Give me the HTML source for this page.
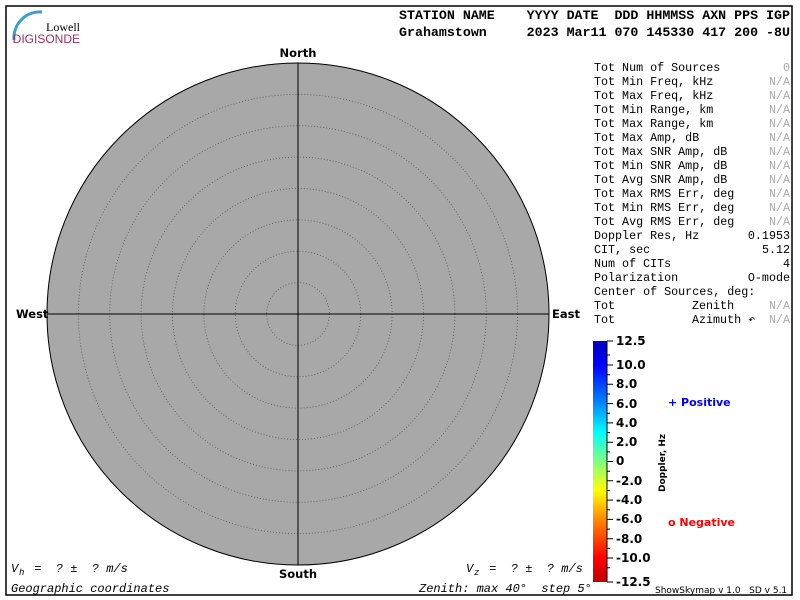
<!DOCTYPE html>
<html><head><style>body{margin:0;background:#fff}svg{display:block}text{white-space:pre}</style></head>
<body>
<svg width="800" height="600" xmlns="http://www.w3.org/2000/svg" font-family="Liberation Mono, monospace">
<defs>
<linearGradient id="cb" x1="0" y1="1" x2="0" y2="0">
<stop offset="0" stop-color="#c00000"/>
<stop offset="0.1" stop-color="#ff0000"/>
<stop offset="0.25" stop-color="#ff8000"/>
<stop offset="0.38" stop-color="#ffff00"/>
<stop offset="0.5" stop-color="#80ff80"/>
<stop offset="0.62" stop-color="#00ffff"/>
<stop offset="0.75" stop-color="#0080ff"/>
<stop offset="0.9" stop-color="#0000ff"/>
<stop offset="1" stop-color="#0000c0"/>
</linearGradient>
</defs>
<rect x="6" y="6" width="786" height="589" fill="none" stroke="#000" stroke-width="1.5"/>
<path d="M14 40 A26 26 0 0 1 42 12" fill="none" stroke="#3aa0c8" stroke-width="3"/>
<text x="80" y="31" font-family="Liberation Serif, serif" font-size="12" text-anchor="end">Lowell</text>
<text x="80" y="43" font-family="Liberation Sans, sans-serif" font-size="12" fill="#a0305a" text-anchor="end">DIGISONDE</text>
<g font-size="13.3" font-weight="bold">
<text x="399" y="19">STATION NAME    YYYY DATE  DDD HHMMSS AXN PPS IGP</text>
<text x="399" y="36">Grahamstown     2023 Mar11 070 145330 417 200 -8U</text>
</g>
<circle cx="298" cy="314" r="251" fill="#a8a8a8" stroke="#000" stroke-width="1"/>
<g fill="none" stroke="#555" stroke-dasharray="1,2" stroke-width="0.8">
<circle cx="298" cy="314" r="31.4"/><circle cx="298" cy="314" r="62.75"/><circle cx="298" cy="314" r="94.1"/><circle cx="298" cy="314" r="125.5"/><circle cx="298" cy="314" r="156.9"/><circle cx="298" cy="314" r="188.25"/><circle cx="298" cy="314" r="219.6"/>
</g>
<line x1="298" y1="63" x2="298" y2="565" stroke="#000"/>
<line x1="47" y1="314" x2="549" y2="314" stroke="#000"/>
<g font-family="DejaVu Sans, sans-serif" font-size="11.5" font-weight="bold">
<text x="298" y="57" text-anchor="middle">North</text>
<text x="298" y="578" text-anchor="middle">South</text>
<text x="16" y="318">West</text>
<text x="552" y="318">East</text>
</g>
<g font-size="11.7">
<text x="594" y="71">Tot Num of Sources</text><text x="790" y="71" text-anchor="end" fill="#aaa">0</text>
<text x="594" y="85">Tot Min Freq, kHz</text><text x="790" y="85" text-anchor="end" fill="#aaa">N/A</text>
<text x="594" y="99">Tot Max Freq, kHz</text><text x="790" y="99" text-anchor="end" fill="#aaa">N/A</text>
<text x="594" y="113">Tot Min Range, km</text><text x="790" y="113" text-anchor="end" fill="#aaa">N/A</text>
<text x="594" y="127">Tot Max Range, km</text><text x="790" y="127" text-anchor="end" fill="#aaa">N/A</text>
<text x="594" y="141">Tot Max Amp, dB</text><text x="790" y="141" text-anchor="end" fill="#aaa">N/A</text>
<text x="594" y="155">Tot Max SNR Amp, dB</text><text x="790" y="155" text-anchor="end" fill="#aaa">N/A</text>
<text x="594" y="169">Tot Min SNR Amp, dB</text><text x="790" y="169" text-anchor="end" fill="#aaa">N/A</text>
<text x="594" y="183">Tot Avg SNR Amp, dB</text><text x="790" y="183" text-anchor="end" fill="#aaa">N/A</text>
<text x="594" y="197">Tot Max RMS Err, deg</text><text x="790" y="197" text-anchor="end" fill="#aaa">N/A</text>
<text x="594" y="211">Tot Min RMS Err, deg</text><text x="790" y="211" text-anchor="end" fill="#aaa">N/A</text>
<text x="594" y="225">Tot Avg RMS Err, deg</text><text x="790" y="225" text-anchor="end" fill="#aaa">N/A</text>
<text x="594" y="239">Doppler Res, Hz</text><text x="790" y="239" text-anchor="end">0.1953</text>
<text x="594" y="253">CIT, sec</text><text x="790" y="253" text-anchor="end">5.12</text>
<text x="594" y="267">Num of CITs</text><text x="790" y="267" text-anchor="end">4</text>
<text x="594" y="281">Polarization</text><text x="790" y="281" text-anchor="end">O-mode</text>
<text x="594" y="295">Center of Sources, deg:</text>
<text x="594" y="309">Tot</text><text x="692" y="309">Zenith</text><text x="790" y="309" text-anchor="end" fill="#aaa">N/A</text>
<text x="594" y="323">Tot</text><text x="692" y="323">Azimuth ↶</text><text x="790" y="323" text-anchor="end" fill="#aaa">N/A</text>
</g>
<rect x="593" y="341" width="14" height="241" fill="url(#cb)"/>
<line x1="607" y1="341" x2="607" y2="582" stroke="#000"/>
<g stroke="#000">
<path d="M607 341h6M607 365h6M607 384.3h6M607 403.6h6M607 422.9h6M607 442.2h6M607 461.5h6M607 480.8h6M607 500.1h6M607 519.4h6M607 538.7h6M607 558h6M607 582h6"/>
<path d="M607 355h3M607 374.7h3M607 394h3M607 413.3h3M607 432.6h3M607 451.9h3M607 471.2h3M607 490.5h3M607 509.8h3M607 529.1h3M607 548.4h3M607 567.7h3"/>
</g>
<g font-family="DejaVu Sans, sans-serif" font-size="12" font-weight="bold">
<text x="616" y="345">12.5</text><text x="616" y="369">10.0</text><text x="616" y="388">8.0</text><text x="616" y="408">6.0</text><text x="616" y="427">4.0</text><text x="616" y="446">2.0</text><text x="616" y="465">0</text><text x="616" y="485">-2.0</text><text x="616" y="504">-4.0</text><text x="616" y="523">-6.0</text><text x="616" y="543">-8.0</text><text x="616" y="562">-10.0</text><text x="616" y="586">-12.5</text>
<text transform="translate(665,492) rotate(-90)" font-size="9">Doppler, Hz</text>
<text x="668" y="406" fill="#0000ff" font-size="11">+ Positive</text>
<text x="668" y="526" fill="#ff0000" font-size="11">o Negative</text>
</g>
<text x="655" y="593" font-family="DejaVu Sans, sans-serif" font-size="9">ShowSkymap v 1.0   SD v 5.1</text>
<g font-size="12" font-style="italic">
<text x="11" y="572">V</text><text x="19" y="575" font-size="9">h</text><text x="27" y="572"> =  ? ±  ? m/s</text>
<text x="466" y="572">V</text><text x="474" y="575" font-size="9">z</text><text x="482" y="572"> =  ? ±  ? m/s</text>
<text x="11" y="592">Geographic coordinates</text>
<text x="419" y="592">Zenith: max 40°  step 5°</text>
</g>
</svg>
</body></html>
